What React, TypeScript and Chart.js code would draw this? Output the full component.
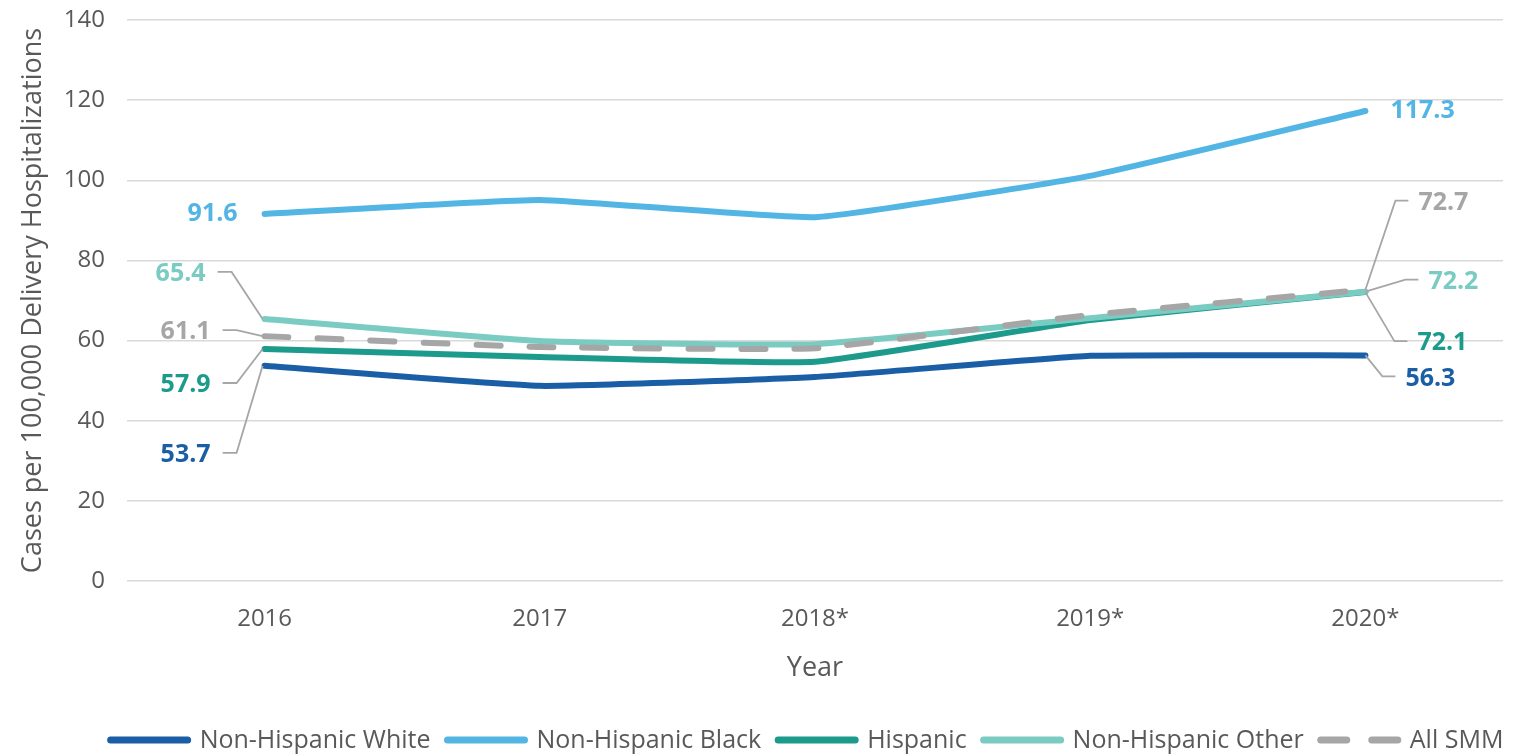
import React, { useEffect, useRef } from "react";
import { Chart, registerables } from "chart.js";

Chart.register(...registerables);

const years = ["2016", "2017", "2018*", "2019*", "2020*"];
const seriesNames = ["Non-Hispanic White", "Non-Hispanic Black", "Hispanic", "Non-Hispanic Other", "All SMM"];
const nhWhite = [53.7, 48.7, 50.9, 56.2, 56.3];
const nhBlack = [91.6, 95.1, 90.8, 101.1, 117.3];
const hispanic = [57.9, 55.9, 54.7, 65.1, 72.1];
const nhOther = [65.4, 59.9, 59.1, 65.6, 72.2];
const allSmm = [61.1, 58.4, 58.1, 66.4, 72.7];
const yMin = 0;
const yMax = 140;
const yStep = 20;
const xTitle = "Year";
const yTitle = "Cases per 100,000 Delivery Hospitalizations";

const colors = ["#1A5EA6", "#53B5E4", "#1C9A8B", "#7ACCC2", "#A6A6A6"];
const FONT = "'Open Sans', sans-serif";

// label placement (style only): dataset index, point index, offsets
const labelPlacements = [
  { ds: 1, i: 0, dx: -27, dy: 0, side: "left", leader: false },
  { ds: 3, i: 0, dx: -59, dy: -45, side: "left", leader: true },
  { ds: 4, i: 0, dx: -54, dy: -4, side: "left", leader: true },
  { ds: 2, i: 0, dx: -54, dy: 36, side: "left", leader: true },
  { ds: 0, i: 0, dx: -54, dy: 89, side: "left", leader: true },
  { ds: 1, i: 4, dx: 25, dy: 0, side: "right", leader: false },
  { ds: 4, i: 4, dx: 53, dy: -87, side: "right", leader: true },
  { ds: 3, i: 4, dx: 63, dy: -10, side: "right", leader: true },
  { ds: 2, i: 4, dx: 52, dy: 51, side: "right", leader: true },
  { ds: 0, i: 4, dx: 40, dy: 23, side: "right", leader: true },
];

const labelPlugin = {
  id: "valueLabels",
  afterDatasetsDraw(chart: any) {
    const ctx = chart.ctx;
    ctx.save();
    ctx.font = `bold 25px ${FONT}`;
    ctx.textBaseline = "middle";
    for (const p of labelPlacements) {
      const meta = chart.getDatasetMeta(p.ds);
      const el = meta.data[p.i];
      if (!el) continue;
      const px = el.x;
      const py = el.y;
      const value = chart.data.datasets[p.ds].data[p.i];
      const tx = px + p.dx;
      const ty = py + p.dy;
      if (p.leader) {
        ctx.strokeStyle = "#A6A6A6";
        ctx.lineWidth = 1.8;
        ctx.beginPath();
        const ly = ty - 2;
        if (p.side === "left") {
          ctx.moveTo(tx + 12, ly);
          ctx.lineTo(tx + 26, ly);
          ctx.lineTo(px - 2, py);
        } else {
          ctx.moveTo(tx - 10, ly);
          ctx.lineTo(tx - 23, ly);
          ctx.lineTo(px, py);
        }
        ctx.stroke();
      }
      ctx.fillStyle = colors[p.ds];
      ctx.textAlign = p.side === "left" ? "right" : "left";
      ctx.fillText(Number(value).toFixed(1), tx, ty);
    }
    ctx.restore();
  },
};

const legendPlugin = {
  id: "customLegend",
  afterDraw(chart: any) {
    const ctx = chart.ctx;
    ctx.save();
    ctx.font = `25px ${FONT}`;
    ctx.textBaseline = "middle";
    const lineW = 85;
    const gap = 8;
    const spacing = 13;
    const widths = seriesNames.map((n) => ctx.measureText(n).width);
    const total = widths.reduce((a, w) => a + lineW + gap + w, 0) + spacing * (seriesNames.length - 1);
    let x = 805 - total / 2;
    const y = 740;
    seriesNames.forEach((name, k) => {
      ctx.strokeStyle = colors[k];
      ctx.lineWidth = 7;
      ctx.lineCap = "round";
      ctx.beginPath();
      if (k === 4) {
        ctx.moveTo(x + 4, y);
        ctx.lineTo(x + 30, y);
        ctx.moveTo(x + 55, y);
        ctx.lineTo(x + 81, y);
      } else {
        ctx.moveTo(x + 4, y);
        ctx.lineTo(x + lineW - 4, y);
      }
      ctx.stroke();
      ctx.fillStyle = "#595959";
      ctx.textAlign = "left";
      ctx.fillText(name, x + lineW + gap, y + 1);
      x += lineW + gap + widths[k] + spacing;
    });
    ctx.restore();
  },
};

export default function App() {
  const ref = useRef<HTMLCanvasElement | null>(null);
  useEffect(() => {
    if (!ref.current) return;
    const series = [nhWhite, nhBlack, hispanic, nhOther, allSmm];
    const orders = [4, 3, 2, 1, 0];
    const chart = new Chart(ref.current, {
      type: "line",
      data: {
        labels: years,
        datasets: series.map((d, k) => ({
          label: seriesNames[k],
          data: d,
          borderColor: colors[k],
          backgroundColor: colors[k],
          borderWidth: 6,
          borderDash: k === 4 ? [24, 29] : [],
          borderCapStyle: "round" as const,
          borderJoinStyle: "round" as const,
          pointRadius: 0,
          pointHoverRadius: 0,
          tension: 0.12,
          order: orders[k],
          fill: false,
        })),
      },
      options: {
        responsive: false,
        animation: false,
        devicePixelRatio: 1,
        layout: { padding: { left: 0, top: 20, right: 16, bottom: 50 } },
        plugins: {
          legend: { display: false },
          tooltip: { enabled: false },
        },
        scales: {
          x: {
            offset: true,
            grid: { display: false, drawTicks: false },
            border: { display: false },
            ticks: { color: "#595959", font: { family: FONT, size: 24 }, padding: 24 },
            title: {
              display: true,
              text: xTitle,
              color: "#595959",
              font: { family: FONT, size: 27 },
              padding: { top: 0, bottom: 19 },
            },
            afterFit(scale: any) {
              scale.height = 123;
            },
          },
          y: {
            min: yMin,
            max: yMax,
            grid: {
              color: "#D9D9D9",
              lineWidth: 1.5,
              drawTicks: true,
              tickLength: 22,
              tickColor: "rgba(0,0,0,0)",
            },
            border: { display: false },
            ticks: {
              stepSize: yStep,
              color: "#595959",
              font: { family: FONT, size: 24 },
              padding: 0,
            },
            title: {
              display: true,
              text: yTitle,
              color: "#595959",
              font: { family: FONT, size: 27 },
              padding: { top: 17, bottom: 0 },
            },
            afterFit(scale: any) {
              scale.width = 127;
            },
          },
        },
      },
      plugins: [labelPlugin, legendPlugin],
    });
    return () => chart.destroy();
  }, []);
  return (
    <div style={{ position: "fixed", left: 0, top: 0, width: 1519, height: 754, background: "#fff" }}>
      <canvas ref={ref} width={1519} height={754} style={{ display: "block", width: 1519, height: 754 }} />
    </div>
  );
}
